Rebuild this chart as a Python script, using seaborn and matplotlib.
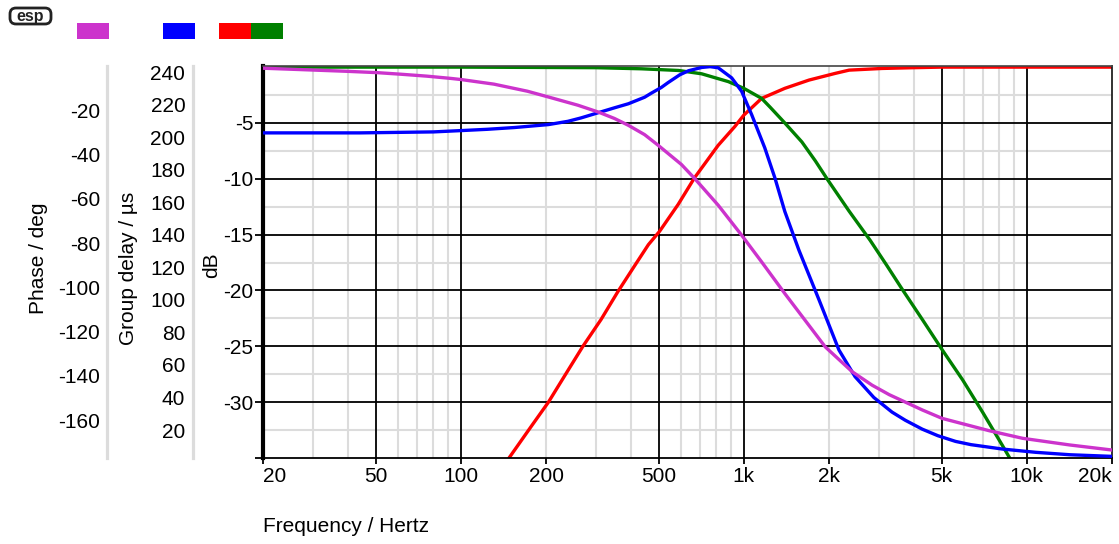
import matplotlib
matplotlib.use("Agg")
import matplotlib.pyplot as plt
import seaborn as sns
from matplotlib.patches import Rectangle, FancyBboxPatch
from matplotlib.transforms import IdentityTransform
from matplotlib.ticker import NullLocator

# ---------------- data ----------------
# High-pass (red) magnitude, dB
hp_freq = [148, 177, 204, 232, 270, 313, 359, 411, 460, 504, 586, 670, 812, 931, 1000, 1156, 1396, 1700, 2105, 2356, 3080, 4000, 5000, 10000, 20000]
hp_db = [-35.0, -32.2, -30.0, -27.7, -25.0, -22.6, -20.1, -17.8, -15.9, -14.7, -12.3, -9.9, -7.0, -5.3, -4.3, -2.8, -1.9, -1.16, -0.56, -0.27, -0.12, -0.05, 0.0, 0.0, 0.0]

# Low-pass (green) magnitude, dB
lp_freq = [20, 100, 300, 435, 588, 710, 882, 1000, 1156, 1240, 1396, 1604, 1790, 1980, 2356, 2794, 3190, 3630, 4274, 5020, 5930, 6980, 8210, 8700]
lp_db = [0.0, 0.0, -0.05, -0.15, -0.3, -0.6, -1.3, -1.9, -2.8, -3.6, -5.0, -6.7, -8.4, -10.1, -12.9, -15.5, -17.7, -19.9, -22.6, -25.3, -28.0, -30.9, -33.9, -35.0]

# Group delay (blue), microseconds
gd_freq = [20, 44, 80, 100, 124, 155, 204, 239, 266, 306, 349, 391, 446, 471, 511, 540, 594, 638, 710, 760, 812, 906, 982, 1066, 1186, 1288, 1396, 1566, 1844, 2168, 2472, 2880, 3340, 3720, 4274, 4850, 5600, 6350, 8200, 10740, 14200, 20000]
gd_us = [202.6, 202.6, 203.2, 204.0, 204.8, 205.9, 207.7, 209.7, 211.8, 215.0, 218.0, 220.5, 224.5, 227.0, 230.5, 233.5, 238.3, 240.8, 242.8, 243.3, 242.6, 236.4, 228.2, 213.8, 193.4, 174.9, 154.3, 130.5, 100.0, 69.2, 52.8, 40.0, 31.0, 26.0, 20.5, 16.5, 13.0, 11.0, 8.3, 6.3, 4.8, 3.8]

# Phase (magenta), degrees
ph_freq = [20, 25.6, 39.6, 50.6, 61.2, 76.1, 92.1, 100, 131, 172, 204, 259, 306, 349, 391, 446, 498, 602, 670, 812, 982, 1156, 1396, 1940, 2414, 2840, 3266, 4274, 5020, 7380, 9660, 14160, 20000]
ph_deg = [-1.0, -1.5, -2.4, -3.0, -3.7, -4.6, -5.6, -6.1, -8.2, -11.4, -14.0, -17.7, -20.8, -23.7, -26.8, -31.0, -35.8, -44.5, -50.8, -62.9, -76.4, -88.5, -102.8, -126.9, -138.1, -144.2, -148.5, -155.4, -159.2, -164.8, -168.2, -171.2, -173.5]

x_ticks = [20, 50, 100, 200, 500, 1000, 2000, 5000, 10000, 20000]
x_tick_labels = ["20", "50", "100", "200", "500", "1k", "2k", "5k", "10k", "20k"]
x_grid_major = [50, 100, 500, 1000, 5000, 10000]
x_grid_minor = [30, 40, 60, 70, 80, 90, 200, 300, 400, 600, 700, 800, 900,
                2000, 3000, 4000, 6000, 7000, 8000, 9000]
db_ticks = [-35, -30, -25, -20, -15, -10, -5]
db_tick_labels = ["", "-30", "-25", "-20", "-15", "-10", "-5"]
db_grid_major = [-30, -25, -20, -15, -10, -5]
db_grid_minor = [-32.5, -27.5, -22.5, -17.5, -12.5, -7.5, -2.5]
gd_ticks = [20, 40, 60, 80, 100, 120, 140, 160, 180, 200, 220, 240]
ph_ticks = [-160, -140, -120, -100, -80, -60, -40, -20]

C_MAG = "#CC33CC"
C_BLUE = "#0000FF"
C_RED = "#FF0000"
C_GREEN = "#008000"
C_AXGRAY = "#dcdcdc"

# ---------------- styling ----------------
sns.set_theme(style="white")
plt.rcParams["font.family"] = ["Liberation Sans", "DejaVu Sans"]
plt.rcParams["font.size"] = 15
plt.rcParams["axes.unicode_minus"] = False
plt.rcParams["text.color"] = "black"
plt.rcParams["xtick.color"] = "black"
plt.rcParams["ytick.color"] = "black"

W, H = 1119, 544
fig = plt.figure(figsize=(W / 100, H / 100), dpi=100)
fig.patch.set_facecolor("white")

L, R, T, B = 263, 1112, 66, 458
ax = fig.add_axes([L / W, 1 - B / H, (R - L) / W, (B - T) / H])
ax.set_facecolor("white")
ax.set_xscale("log")
ax.set_xlim(20, 20000)
ax.set_ylim(-35, 0.1)

# grid
for f in x_grid_minor:
    ax.axvline(f, color=C_AXGRAY, lw=1.5, zorder=0.5)
for v in db_grid_minor:
    ax.axhline(v, color=C_AXGRAY, lw=1.5, zorder=0.5)
for f in x_grid_major:
    ax.axvline(f, color="black", lw=1.3, zorder=0.8)
for v in db_grid_major:
    ax.axhline(v, color="black", lw=1.3, zorder=0.8)

LW = 2.4
# dB curves
sns.lineplot(x=hp_freq, y=hp_db, ax=ax, color=C_RED, linewidth=LW, sort=False, estimator=None, legend=False, zorder=3)
sns.lineplot(x=lp_freq, y=lp_db, ax=ax, color=C_GREEN, linewidth=LW, sort=False, estimator=None, legend=False, zorder=3)

ax.set_xticks(x_ticks)
ax.set_xticklabels(x_tick_labels)
ax.xaxis.set_minor_locator(NullLocator())
xt = ax.get_xticklabels()
xt[0].set_horizontalalignment("left")
xt[-1].set_horizontalalignment("right")
ax.tick_params(axis="x", direction="out", length=4.5, width=1.3, pad=2, labelsize=15, bottom=True)
ax.set_yticks(db_ticks)
ax.set_yticklabels(db_tick_labels)
ax.yaxis.set_minor_locator(NullLocator())
ax.tick_params(axis="y", direction="out", length=5.8, width=1.3, pad=1, labelsize=15, left=True)
ax.set_xlabel("")
ax.set_ylabel("")
ax.spines["left"].set_color("black")
ax.spines["left"].set_linewidth(3.0)
ax.spines["bottom"].set_color("black")
ax.spines["bottom"].set_linewidth(1.3)
ax.spines["right"].set_color("#222222")
ax.spines["right"].set_linewidth(1.3)
ax.spines["top"].set_color("#444444")
ax.spines["top"].set_linewidth(1.2)
for s in ax.spines.values():
    s.set_zorder(5)

# group delay axis
ax_gd = ax.twinx()
ax_gd.set_ylim(2.8, 243.7)
sns.lineplot(x=gd_freq, y=gd_us, ax=ax_gd, color=C_BLUE, linewidth=LW, sort=False, estimator=None, legend=False)
ax_gd.yaxis.set_ticks_position("left")
ax_gd.yaxis.set_label_position("left")
ax_gd.spines["left"].set_position(("axes", (193 - L) / (R - L)))
for s in ["right", "top", "bottom"]:
    ax_gd.spines[s].set_visible(False)
ax_gd.spines["left"].set_visible(True)
ax_gd.spines["left"].set_color(C_AXGRAY)
ax_gd.spines["left"].set_linewidth(2.3)
ax_gd.set_yticks(gd_ticks)
ax_gd.yaxis.set_minor_locator(NullLocator())
ax_gd.tick_params(axis="y", length=0, pad=5.5, labelsize=15, left=True, right=False, labelleft=True, labelright=False)
ax_gd.set_ylabel("")
ax_gd.xaxis.set_visible(False)

# phase axis
ax_ph = ax.twinx()
ax_ph.set_ylim(-177.1, 0)
sns.lineplot(x=ph_freq, y=ph_deg, ax=ax_ph, color=C_MAG, linewidth=LW, sort=False, estimator=None, legend=False)
ax_ph.yaxis.set_ticks_position("left")
ax_ph.yaxis.set_label_position("left")
ax_ph.spines["left"].set_position(("axes", (107 - L) / (R - L)))
for s in ["right", "top", "bottom"]:
    ax_ph.spines[s].set_visible(False)
ax_ph.spines["left"].set_visible(True)
ax_ph.spines["left"].set_color(C_AXGRAY)
ax_ph.spines["left"].set_linewidth(2.3)
ax_ph.set_yticks(ph_ticks)
ax_ph.yaxis.set_minor_locator(NullLocator())
ax_ph.tick_params(axis="y", length=0, pad=5, labelsize=15, left=True, right=False, labelleft=True, labelright=False)
ax_ph.set_ylabel("")
ax_ph.xaxis.set_visible(False)

ax.set_xlim(20, 20000)

# axis titles
fig.text(38 / W, 1 - 258 / H, "Phase / deg", rotation=90, ha="center", va="center", fontsize=15)
fig.text(128 / W, 1 - 268 / H, "Group delay / \u00b5s", rotation=90, ha="center", va="center", fontsize=15)
fig.text(212 / W, 1 - 265 / H, "dB", rotation=90, ha="center", va="center", fontsize=15)
fig.text(263 / W, 1 - 527 / H, "Frequency / Hertz", ha="left", va="center", fontsize=15)

# colour key and logo
for (x0, x1, c) in [(77, 109, C_MAG), (163, 195, C_BLUE), (219, 251, C_RED), (251, 283, C_GREEN)]:
    fig.add_artist(Rectangle((x0 / W, 1 - 39 / H), (x1 - x0) / W, 16 / H,
                             transform=fig.transFigure, facecolor=c, edgecolor="none"))
fig.add_artist(FancyBboxPatch((10, H - 24), 41, 16, boxstyle="round,pad=0,rounding_size=6",
                              transform=IdentityTransform(), facecolor="white",
                              edgecolor="#222222", linewidth=2))
fig.text(30.5 / W, 1 - 16.5 / H, "esp", ha="center", va="center", fontsize=11.5, fontweight="bold",
         color="#222222")

fig.savefig("out.png", dpi=100, facecolor="white")
